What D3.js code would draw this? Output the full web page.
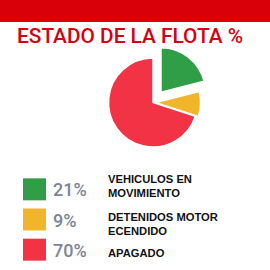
<!DOCTYPE html>
<html>
<head>
<meta charset="utf-8">
<script src="https://cdn.jsdelivr.net/npm/d3@7"></script>
<style>
  html, body { margin: 0; padding: 0; background: #fff; }
  svg { display: block; }
</style>
</head>
<body>
<div id="chart-container"></div>
<script>
// Data
const categories = ["VEHICULOS EN MOVIMIENTO", "DETENIDOS MOTOR ECENDIDO", "APAGADO"];
const labelLines = [["VEHICULOS EN", "MOVIMIENTO"], ["DETENIDOS MOTOR", "ECENDIDO"], ["APAGADO"]];
const values = [21, 9, 70];
const colors = ["#2f9e47", "#f0b52a", "#f23346"];

const width = 270;
const height = 270;

const svg = d3.select("#chart-container")
    .append("svg")
    .attr("width", width)
    .attr("height", height);

// Red bar on top
svg.append("rect")
    .attr("x", 0)
    .attr("y", 0)
    .attr("width", width)
    .attr("height", 22)
    .attr("fill", "#d90009");

// Title
svg.append("text")
    .attr("x", 17)
    .attr("y", 43)
    .attr("fill", "#d6000f")
    .style("font-family", "Roboto, sans-serif")
    .style("font-weight", 500)
    .style("font-size", "21px")
    .attr("textLength", 226)
    .attr("lengthAdjust", "spacingAndGlyphs")
    .text("ESTADO DE LA FLOTA %");

// Pie
const cx = 153, cy = 102.5, radius = 44.5;
const explode = [13, 3, 0];

const pie = d3.pie().sort(null).value(d => d);
const arc = d3.arc().innerRadius(0).outerRadius(radius);
const arcs = pie(values);

const pieG = svg.append("g")
    .attr("transform", `translate(${cx},${cy})`);

pieG.selectAll("path")
    .data(arcs)
    .join("path")
    .attr("d", arc)
    .attr("fill", (d, i) => colors[i])
    .attr("stroke", "#fff")
    .attr("stroke-width", 1.5)
    .attr("transform", (d, i) => {
        const a = (d.startAngle + d.endAngle) / 2;
        return `translate(${Math.sin(a) * explode[i]},${-Math.cos(a) * explode[i]})`;
    });

// Legend
const legendY = d3.scaleBand()
    .domain(categories)
    .range([175, 264])
    .paddingInner(0.25)
    .paddingOuter(0.1);

const labelDy = [-6, 1.5, 7];

const legend = svg.append("g");

const rows = legend.selectAll("g")
    .data(categories)
    .join("g")
    .attr("transform", d => `translate(0,${legendY(d) + legendY.bandwidth() / 2})`);

rows.append("rect")
    .attr("x", 23)
    .attr("y", -11)
    .attr("width", 23)
    .attr("height", 22)
    .attr("fill", (d, i) => colors[i]);

rows.append("text")
    .attr("x", 53)
    .attr("y", 7)
    .attr("fill", "#7b8597")
    .style("font-family", "Roboto, sans-serif")
    .style("font-weight", 500)
    .style("font-size", "18px")
    .text((d, i) => values[i] + "%");

rows.append("text")
    .attr("x", 108)
    .attr("y", (d, i) => labelDy[i])
    .attr("fill", "#111")
    .style("font-family", "'Liberation Sans', Arial, sans-serif")
    .style("font-weight", "bold")
    .style("font-size", "11.2px")
    .selectAll("tspan")
    .data((d, i) => labelLines[i])
    .join("tspan")
    .attr("x", 108)
    .attr("dy", (d, j) => j === 0 ? 0 : 13.5)
    .text(d => d);
</script>
</body>
</html>
